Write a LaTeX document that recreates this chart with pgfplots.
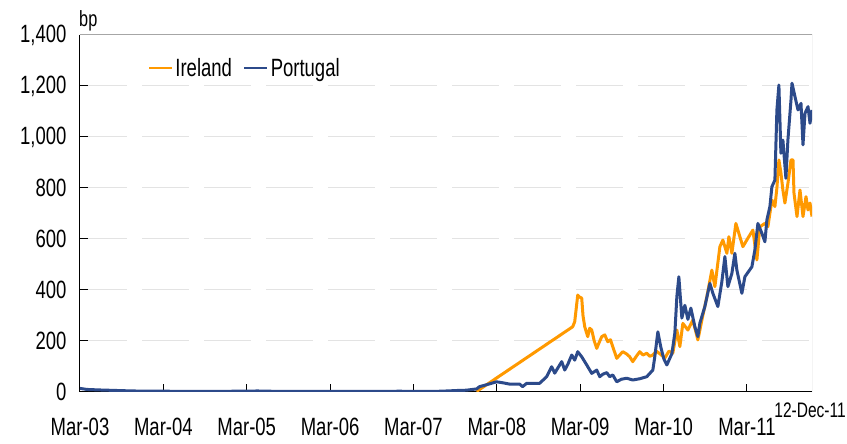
\documentclass[border=0pt]{standalone}
\usepackage{fontspec}
\setmainfont{Liberation Sans}[FakeStretch=0.74]
\usepackage{pgfplots}
\pgfplotsset{compat=1.18}
\definecolor{ireorange}{RGB}{255,153,0}
\definecolor{porblue}{RGB}{44,74,138}
\begin{document}
\begin{tikzpicture}
\begin{axis}[
 scale only axis, width=732pt, height=357pt,
 xmin=2003.1667, xmax=2011.947, ymin=0, ymax=1400,
 axis x line*=bottom, axis y line*=left,
 axis line style={black, line width=1pt},
 xtick={2003.1667,2004.1667,2005.1667,2006.1667,2007.1667,2008.1667,2009.1667,2010.1667,2011.1667},
 xticklabels={Mar-03,Mar-04,Mar-05,Mar-06,Mar-07,Mar-08,Mar-09,Mar-10,Mar-11},
 ytick={0,200,400,600,800,1000,1200,1400},
 tick align=inside,
 major tick length=8pt,
 tick style={black, line width=1pt},
 ymajorgrids,
 major grid style={gray!22, line width=1pt, dash pattern=on 47pt off 15pt},
 /pgf/number format/assume math mode=true,
 /pgf/number format/1000 sep={,},
 ticklabel style={font=\fontsize{25}{29}\selectfont},
 yticklabel style={xshift=-10pt},
 xticklabel style={yshift=-23pt},
 legend columns=2,
 legend style={draw=none, fill=none, at={(0.088,0.9076)}, anchor=west,
   font=\fontsize{25}{29}\selectfont,
   /tikz/every even column/.append style={column sep=9pt}},
 legend image code/.code={\draw[#1,line width=2.8pt] (0pt,0pt) -- (23pt,0pt);},
]
\addplot[ireorange, line width=3pt, line join=round] coordinates {
(2007.923,2) (2009.077,256) (2009.101,276) (2009.137,380) (2009.160,372) (2009.185,368)
(2009.200,300) (2009.221,256) (2009.240,235) (2009.257,217) (2009.280,250) (2009.305,243) (2009.335,200) (2009.365,171) (2009.395,195) (2009.425,217)
(2009.461,224) (2009.497,197) (2009.530,205) (2009.557,178) (2009.605,132) (2009.640,145) (2009.677,158)
(2009.720,150) (2009.761,138) (2009.797,119) (2009.840,140) (2009.881,158) (2009.920,145) (2009.965,152) (2010.000,140) (2010.038,145)
(2010.080,160) (2010.122,150) (2010.182,133) (2010.230,160) (2010.278,153) (2010.326,243) (2010.362,178)
(2010.398,269) (2010.458,243) (2010.518,282) (2010.578,204) (2010.626,282)
(2010.686,374) (2010.746,478) (2010.782,413) (2010.842,570) (2010.878,596)
(2010.926,544) (2010.950,609) (2010.986,544) (2011.034,661) (2011.082,609)
(2011.118,570) (2011.178,603) (2011.238,635) (2011.286,518) (2011.322,648)
(2011.382,661) (2011.418,648) (2011.466,753) (2011.502,727) (2011.526,800)
(2011.550,910) (2011.574,860) (2011.598,792) (2011.622,741) (2011.658,818)
(2011.695,910) (2011.719,910) (2011.731,780) (2011.767,688) (2011.803,792)
(2011.839,688) (2011.875,766) (2011.899,714) (2011.923,741) (2011.947,688)
};
\addlegendentry{Ireland}
\addplot[porblue, line width=3pt, line join=round] coordinates {
(2003.167,14) (2003.25,10) (2003.4,8) (2003.6,6) (2003.8,4) (2004.2,3)
(2004.8,2) (2005.0,3) (2005.3,4) (2005.6,2) (2006.0,2) (2006.5,2)
(2007.0,3) (2007.4,2) (2007.563,4) (2007.7,6) (2007.8,7)
(2007.923,12) (2007.959,21) (2008.060,30) (2008.164,40) (2008.240,36) (2008.320,31) (2008.440,31)
(2008.476,21) (2008.524,34) (2008.680,34) (2008.764,60) (2008.824,99)
(2008.861,74) (2008.900,95) (2008.945,119) (2008.981,86) (2009.020,110) (2009.065,145) (2009.101,125)
(2009.137,158) (2009.185,138) (2009.245,106) (2009.305,73) (2009.365,86)
(2009.401,60) (2009.440,70) (2009.485,76) (2009.520,60) (2009.557,67) (2009.605,40) (2009.660,50) (2009.725,54)
(2009.797,47) (2009.881,52) (2009.965,60) (2010.038,86) (2010.062,140)
(2010.098,236) (2010.134,175) (2010.170,130) (2010.206,106) (2010.266,150)
(2010.302,231) (2010.326,374) (2010.350,452) (2010.386,290) (2010.422,340)
(2010.458,285) (2010.494,329) (2010.542,256) (2010.578,217) (2010.602,270)
(2010.662,335) (2010.722,426) (2010.758,387) (2010.818,335) (2010.866,433)
(2010.902,531) (2010.938,413) (2010.986,465) (2011.022,544) (2011.046,478)
(2011.106,387) (2011.142,452) (2011.226,491) (2011.262,557) (2011.298,661)
(2011.346,622) (2011.382,589) (2011.406,675) (2011.442,727) (2011.466,805)
(2011.502,831) (2011.526,1106) (2011.550,1204) (2011.574,936) (2011.598,988)
(2011.634,838) (2011.658,988) (2011.695,1145) (2011.707,1211) (2011.743,1158)
(2011.779,1106) (2011.815,1132) (2011.839,969) (2011.863,1093) (2011.899,1119)
(2011.923,1054) (2011.947,1106)
};
\addlegendentry{Portugal}
\draw[gray!70, line width=1pt] (rel axis cs:0,1) -- (rel axis cs:1,1) -- (rel axis cs:1,0);
\end{axis}
\node[anchor=base west, inner sep=0, font=\fontsize{22}{26}\selectfont] at ([shift={(-1pt,8pt)}]current axis.north west) {bp};
\node[anchor=north east, inner sep=0, font=\fontsize{21}{24}\selectfont] at ([shift={(34pt,-11pt)}]current axis.south east) {12-Dec-11};
\pgfresetboundingbox
\path[use as bounding box] ([shift={(-80pt,-52pt)}]current axis.south west) rectangle ([shift={(767pt,392pt)}]current axis.south west);
\end{tikzpicture}
\end{document}
